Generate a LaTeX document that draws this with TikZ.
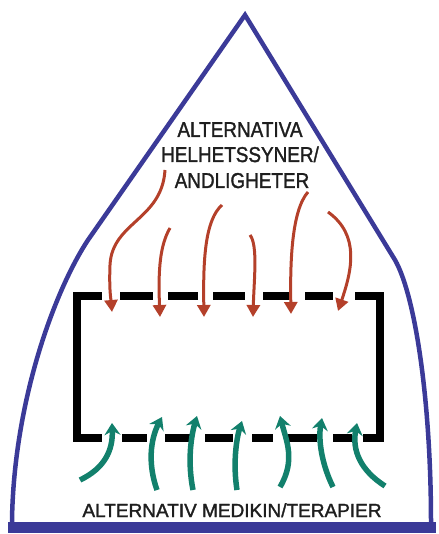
\documentclass[tikz,border=0pt]{standalone}
\usepackage{fontspec}
\setmainfont{Liberation Sans}
\newfontfamily\markerfont[FakeBold=1.6]{Liberation Sans}
\usetikzlibrary{arrows.meta}
\definecolor{archblue}{HTML}{3B3A98}
\definecolor{redarrow}{HTML}{B4402A}
\definecolor{greenarrow}{HTML}{12806C}
\definecolor{inkgray}{HTML}{1E1E1E}
\tikzset{
  outline/.style={draw=archblue, line width=4.5pt, line join=miter},
  basebar/.style={draw=archblue, line width=11pt},
  boxline/.style={draw=black, line width=7.5pt},
  redarr/.style={draw=redarrow, line width=3pt, -{Triangle[width=13pt,length=12pt]}},
  greenarr/.style={draw=greenarrow, line width=5.5pt, -{Stealth[width=16pt,length=12pt,inset=4pt]}},
  toplabel/.style={text=inkgray, anchor=base, inner sep=0pt, font=\markerfont\fontsize{21.5}{25}\selectfont},
  botlabel/.style={text=inkgray, anchor=base, inner sep=0pt, font=\markerfont\fontsize{19}{23}\selectfont}
}
\begin{document}
\begin{tikzpicture}[x=1pt, y=-1pt]
\useasboundingbox (0,0) rectangle (438,534);
% arch outline
\draw[outline] (12,523) -- (12,520) .. controls (14,400) and (55,290) .. (88,240) -- (245,15) -- (395,260) .. controls (415,295) and (431,400) .. (431,523);
\draw[basebar] (8,527) -- (436,527);
% box: sides
\draw[boxline, line cap=butt] (77,293) -- (77,442);
\draw[boxline, line cap=butt] (380,292) -- (380,442);
% top dashes
\foreach \a/\b in {73/102,120/153,168/198,213/245,263/290,305/333,355/384}
  \draw[boxline] (\a,296) -- (\b,296);
% bottom dashes
\foreach \a/\b in {73/102,122/147,165/190,205/233,252/273,287/317,333/352,363/384}
  \draw[boxline] (\a,438) -- (\b,438);
% labels
\node[toplabel] (t1) at (240,137) {\scalebox{0.88}[1]{ALTERNATIVA}};
\node[toplabel] (t2) at (240,162) {\scalebox{0.88}[1]{HELHETSSYNER/}};
\node[toplabel] (t3) at (242,188) {\scalebox{0.88}[1]{ANDLIGHETER}};
\node[botlabel] (b1) at (232,517) {\scalebox{1.0}[1]{ALTERNATIV MEDIKIN/TERAPIER}};
% red arrows
\draw[redarr] (165,170) .. controls (162,220) and (112,222) .. (110,265) .. controls (109,290) and (111,300) .. (112,312);
\draw[redarr] (170,228) .. controls (160,245) and (158,270) .. (160,317);
\draw[redarr] (222,205) .. controls (205,220) and (203,260) .. (204,317);
\draw[redarr] (250,235) .. controls (258,245) and (254,280) .. (253,317);
\draw[redarr] (308,192) .. controls (292,210) and (290,260) .. (291,314);
\draw[redarr] (328,212) .. controls (360,235) and (352,270) .. (338,311);
% green arrows
\draw[greenarr] (80,480) .. controls (105,468) and (113,450) .. (112,423);
\draw[greenarr] (157,490) .. controls (148,465) and (150,440) .. (162,417);
\draw[greenarr] (193,490) .. controls (188,465) and (190,440) .. (197,416);
\draw[greenarr] (237,490) .. controls (233,465) and (236,440) .. (242,421);
\draw[greenarr] (280,487) .. controls (296,460) and (286,440) .. (280,416);
\draw[greenarr] (333,487) .. controls (322,465) and (318,440) .. (322,418);
\draw[greenarr] (385,486) .. controls (360,470) and (352,450) .. (357,423);
\end{tikzpicture}
\end{document}
